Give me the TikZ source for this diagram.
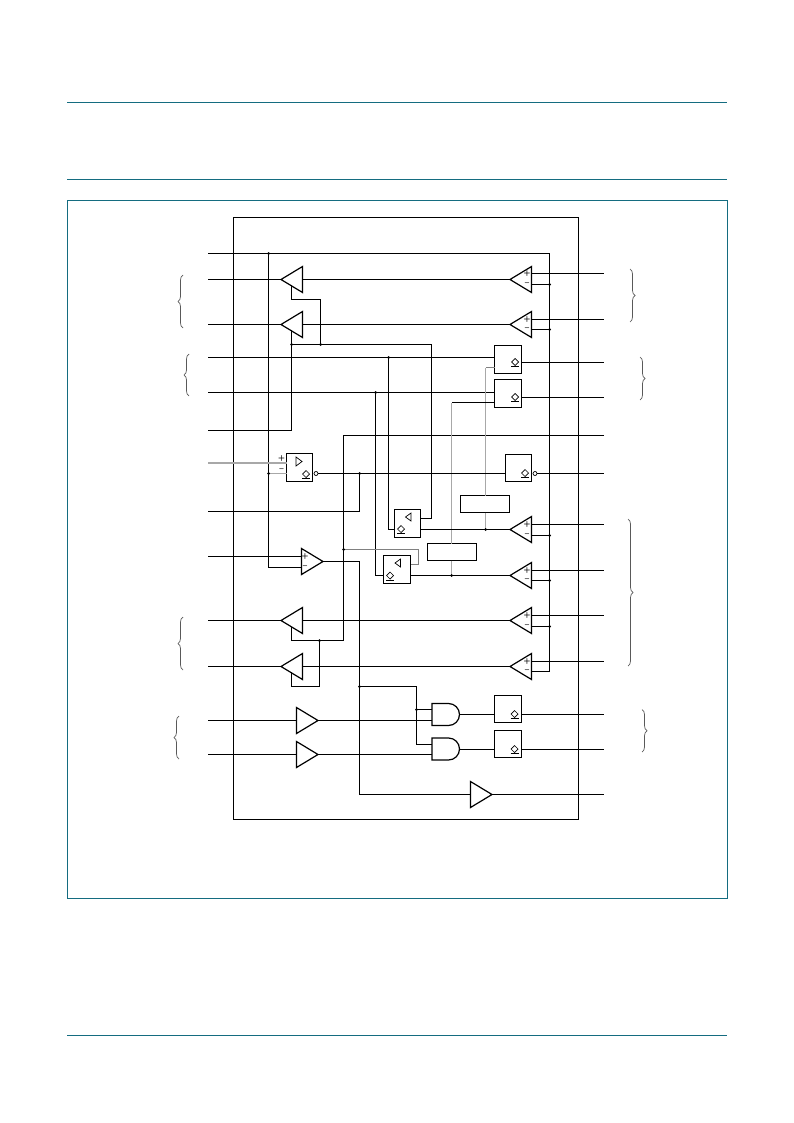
\documentclass[tikz,border=0pt]{standalone}
\usepackage{tikz}
\definecolor{frameColor}{HTML}{146C80}
\definecolor{fadedColor}{HTML}{A8A8A8}
\usetikzlibrary{arrows.meta, positioning, shapes, shapes.gates.logic.US, calc, decorations.pathreplacing}
\tikzset{
    x=1pt, y=-1pt,
    framePath/.style = {color=frameColor, line width=1pt},
    wirePath/.style = {draw, color=black, line width=1pt},
    fadedPath/.style = {wirePath, color=fadedColor},
    bracePath/.style = {draw, color=black!65, line width=0.7pt, decorate, decoration={brace, amplitude=5pt, aspect=0.5}},
    ampNode/.style = {isosceles triangle, isosceles triangle apex angle=62, isosceles triangle stretches, draw, line width=1.2pt, inner sep=0pt, outer sep=0pt, minimum width=26pt, minimum height=21.5pt, anchor=apex},
    ampLeftNode/.style = {ampNode, shape border rotate=180},
    boxNode/.style = {rectangle, draw, line width=1pt, inner sep=0pt, outer sep=0pt, minimum width=27pt, minimum height=28pt},
    labelBoxNode/.style = {boxNode, minimum width=49pt, minimum height=17pt},
    andNode/.style = {and gate US, draw, logic gate inputs=nn, line width=1.2pt, inner sep=0pt, outer sep=0pt, minimum width=27pt, minimum height=22pt, anchor=west},
    dotNode/.style = {circle, fill, inner sep=0pt, outer sep=0pt, minimum size=3pt},
    bubbleNode/.style = {circle, draw, fill=white, line width=0.7pt, inner sep=0pt, outer sep=0pt, minimum size=4pt},
    signNode/.style = {inner sep=0pt, font=\fontsize{8}{8}\selectfont\sffamily\bfseries}
}
\newcommand{\enableMark}[1]{% diamond with its bar
    \draw[line width=0.7pt] ($#1+(-3.5,0)$) -- ($#1+(0,-3.5)$) -- ($#1+(3.5,0)$) -- ($#1+(0,3.5)$) -- cycle;
    \draw[line width=0.8pt] ($#1+(-4,4.5)$) -- ($#1+(4,4.5)$);
}
\begin{document}
\begin{tikzpicture}
    \useasboundingbox[fill=white] (0,0) rectangle (793,1123);
    % page rules and frame
    \draw[framePath] (67,102.5) -- (727,102.5);
    \draw[framePath] (67,179.5) -- (727,179.5);
    \draw[framePath] (67,1035.5) -- (727,1035.5);
    \draw[framePath] (67.5,200.5) rectangle (727.5,898.5);
    \draw[wirePath] (233.5,217.5) rectangle (578.5,819.5);
    % pins
    \foreach \pinName/\pinY in {inTop/253.5, inA/279.5, inB/324.5, inC/357.5, inD/392.5, inE/430.5, inF/463, inG/511.5, inH/556.5, inI/620.5, inJ/666.5, inK/720.5, inL/754.5}
        \coordinate (\pinName) at (208,\pinY);
    \foreach \pinName/\pinY in {outA/273.5, outB/319.5, outC/362.5, outD/397.5, outE/435.5, outF/473.5, outG/524.5, outH/570.5, outI/615.5, outJ/661.5, outK/714.5, outL/749.5, outM/794.5}
        \coordinate (\pinName) at (604,\pinY);
    % receivers and drivers
    \node(drvA)[ampLeftNode] at (281,279.5){};
    \node(drvB)[ampLeftNode] at (281,324.5){};
    \node(drvC)[ampLeftNode] at (281,620.5){};
    \node(drvD)[ampLeftNode] at (281,666.5){};
    \node(cmpA)[ampLeftNode] at (510,279.5){};
    \node(cmpB)[ampLeftNode] at (510,324.5){};
    \node(cmpC)[ampLeftNode] at (510,529.5){};
    \node(cmpD)[ampLeftNode] at (510,575.5){};
    \node(cmpE)[ampLeftNode] at (510,620.5){};
    \node(cmpF)[ampLeftNode] at (510,666.5){};
    \node(ampH)[ampNode] at (323,561.5){};
    \node(bufK)[ampNode] at (318,720.5){};
    \node(bufL)[ampNode] at (318,754.5){};
    \node(bufM)[ampNode] at (492,794.5){};
    % boxes
    \node(boxC)[boxNode] at (508,359.5){};
    \node(boxD)[boxNode] at (508,393.5){};
    \node(boxF)[boxNode, minimum width=26pt] at (299.5,467.5){};
    \node(boxO)[boxNode, minimum width=26pt, minimum height=27pt] at (518.5,468){};
    \node(boxG)[boxNode, minimum width=26pt] at (407.5,523.5){};
    \node(boxH)[boxNode] at (397,569.5){};
    \node(boxK)[boxNode, minimum height=27pt] at (508,709){};
    \node(boxL)[boxNode, minimum height=27pt] at (508,744){};
    \node(labelG)[labelBoxNode] at (485,504){};
    \node(labelH)[labelBoxNode] at (452,552){};
    \node(andK)[andNode] at (432,714.5){};
    \node(andL)[andNode] at (432,749){};
    \node(bubF)[bubbleNode] at (316,473.5){};
    \node(bubO)[bubbleNode] at (535,473.5){};
    % junction points
    \coordinate (busV) at (268.5,253.5);
    \coordinate (busR) at (549.5,253.5);
    \coordinate (busEnd) at (549.5,671.5);
    \coordinate (enBus) at (291.5,344.5);
    \coordinate (enTap) at (320.5,344.5);
    \coordinate (enLow) at (319.5,640.5);
    \coordinate (oeBus) at (343.5,435.5);
    \coordinate (ampTap) at (359.5,686.5);
    \coordinate (fbTap) at (359.5,473.5);
    \coordinate (oeTap) at (343.5,549.5);
    \coordinate (gateTap) at (416.5,709.5);
    \coordinate (gateLow) at (416.5,744.5);
    \coordinate (dataG) at (485.5,529.5);
    \coordinate (dataH) at (451.5,575.5);
    % top wires
    \draw[wirePath] (inTop) -- (busR) -- (busEnd) -- (cmpF.lower side |- busEnd);
    \draw[wirePath] (busV) -- (268.5,567.5) -- (ampH.lower side |- 0,567.5);
    \draw[wirePath] (inA) -- (drvA.apex);
    \draw[wirePath] (inB) -- (drvB.apex);
    \draw[wirePath] (drvA.lower side) -- (cmpA.apex);
    \draw[wirePath] (drvB.lower side) -- (cmpB.apex);
    \foreach \cmpName/\outName in {cmpA/outA, cmpB/outB, cmpC/outG, cmpD/outH, cmpE/outI, cmpF/outJ} {
        \draw[wirePath] (\outName -| \cmpName.lower side) -- (\outName);
    }
    \foreach \cmpName/\tapY in {cmpA/284.5, cmpB/329.5, cmpC/535.5, cmpD/580.5, cmpE/626.5} {
        \draw[wirePath] (\cmpName.lower side |- 0,\tapY) -- (549.5,\tapY);
        \node[dotNode] at (549.5,\tapY){};
    }
    % enables
    \draw[wirePath] (291.5,285) -- (291.5,299.5) -- (320.5,299.5) -- (enTap);
    \draw[wirePath] (291.5,330) -- (enBus |- inE) -- (inE);
    \draw[wirePath] (enBus) -- (431.5,344.5) -- (431.5,518.5) -- (boxG.east |- 0,518.5);
    \draw[wirePath] (inC) -- (boxC.west |- inC);
    \draw[wirePath] (inD) -- (boxD.west |- inD);
    \draw[wirePath] (388.5,357.5) -- (388.5,529.5) -- (boxG.west |- 0,529.5);
    \draw[wirePath] (375.5,392.5) -- (375.5,575.5) -- (boxH.west |- 0,575.5);
    \draw[wirePath] (boxC.east |- outC) -- (outC);
    \draw[wirePath] (boxD.east |- outD) -- (outD);
    \draw[wirePath] (outE) -- (oeBus) -- (343.5,640.5) -- (291.5,640.5) -- (291.5,627);
    \draw[wirePath] (enLow) -- (319.5,686.5) -- (291.5,686.5) -- (291.5,672);
    \draw[fadedPath, color=black!50] (oeTap) -- (418.5,549.5) -- (418.5,564.5) -- (boxH.east |- 0,564.5);
    % data feedback
    \draw[fadedPath] (485.5,367.5) -- (dataG |- labelG.north);
    \draw[fadedPath, color=black!50] (boxC.west |- 0,367.5) -- (485.5,367.5);
    \draw[fadedPath] (451.5,402.5) -- (dataH |- labelH.north);
    \draw[wirePath] (boxD.west |- 0,402.5) -- (451.5,402.5);
    \draw[fadedPath] (dataG |- labelG.south) -- (dataG);
    \draw[fadedPath] (dataH |- labelH.south) -- (dataH);
    \draw[wirePath] (boxG.east |- cmpC.apex) -- (cmpC.apex);
    \draw[wirePath] (boxH.east |- cmpD.apex) -- (cmpD.apex);
    \draw[wirePath] (drvC.lower side) -- (cmpE.apex);
    \draw[wirePath] (drvD.lower side) -- (cmpF.apex);
    \draw[wirePath] (inI) -- (drvC.apex);
    \draw[wirePath] (inJ) -- (drvD.apex);
    % transceiver with bubbles
    \draw[fadedPath, line width=1.6pt] (inF) -- (boxF.west |- inF);
    \draw[fadedPath] (busV |- bubF) -- (boxF.west |- bubF);
    \draw[wirePath] (bubF) -- (boxO.west |- bubF);
    \draw[wirePath] (bubO) -- (outF);
    \draw[wirePath] (fbTap) -- (fbTap |- inG) -- (inG);
    % amplifier and gates
    \draw[wirePath] (inH) -- (ampH.lower side |- inH);
    \draw[wirePath] (ampH.apex) -- (359.5,561.5) -- (359.5,794.5) -- (bufM.lower side);
    \draw[wirePath] (ampTap) -- (416.5,686.5) -- (gateLow) -- (andL.west |- gateLow);
    \draw[wirePath] (gateTap) -- (andK.west |- gateTap);
    \draw[wirePath] (inK) -- (bufK.lower side);
    \draw[wirePath] (inL) -- (bufL.lower side);
    \draw[wirePath] (bufK.apex) -- (andK.west |- bufK.apex);
    \draw[wirePath] (bufL.apex) -- (andL.west |- bufL.apex);
    \draw[wirePath] (andK.east |- outK) -- (boxK.west |- outK);
    \draw[wirePath] (andL.east |- outL) -- (boxL.west |- outL);
    \draw[wirePath] (boxK.east |- outK) -- (outK);
    \draw[wirePath] (boxL.east |- outL) -- (outL);
    \draw[wirePath] (bufM.apex) -- (outM);
    % junction dots
    \foreach \dotName in {busV, enBus, enTap, enLow, fbTap, ampTap, oeTap, dataG, dataH, gateTap}
        \node[dotNode] at (\dotName) {};
    \foreach \dotPos in {(388.5,357.5), (375.5,392.5), (268.5,473.5)}
        \node[dotNode] at \dotPos {};
    % marks in the boxes
    \enableMark{(515,362)}
    \enableMark{(515,397)}
    \enableMark{(525,473)}
    \enableMark{(514.5,714)}
    \enableMark{(514.5,749)}
    \enableMark{(306,474)}
    \enableMark{(401,529)}
    \enableMark{(390,575.5)}
    \draw[line width=0.7pt] (296,457) -- (302,461.5) -- (296,466) -- cycle;
    \draw[line width=0.7pt] (411,513) -- (405.5,517) -- (411,521) -- cycle;
    \draw[line width=0.7pt] (400.5,559) -- (395,563) -- (400.5,567) -- cycle;
    % signs
    \foreach \cmpName/\outName/\minusY in {cmpA/outA/284.5, cmpB/outB/329.5, cmpC/outG/535.5, cmpD/outH/580.5, cmpE/outI/626.5, cmpF/outJ/671.5} {
        \node[signNode] at ($(\cmpName.lower side |- \outName)+(-4.5,0)$){+};
        \node[signNode] at ($(\cmpName.lower side |- 0,\minusY)+(-4.5,0)$){--};
    }
    \node(plusH)[signNode] at (305,556.5){+};
    \node(minusH)[signNode] at (305,567.5){--};
    \node(plusF)[signNode] at (281.5,458.5){+};
    \node(minusF)[signNode] at (281.5,470){--};
    % braces
    \draw[bracePath] (183,328) -- (183,275);
    \draw[bracePath] (189,396) -- (189,354);
    \draw[bracePath] (183,670) -- (183,617);
    \draw[bracePath] (179,759) -- (179,716);
    \draw[bracePath] (630,269) -- (630,322);
    \draw[bracePath] (640,357) -- (640,400);
    \draw[bracePath] (628,519) -- (628,666);
    \draw[bracePath] (642,709.5) -- (642,752);
\end{tikzpicture}
\end{document}
